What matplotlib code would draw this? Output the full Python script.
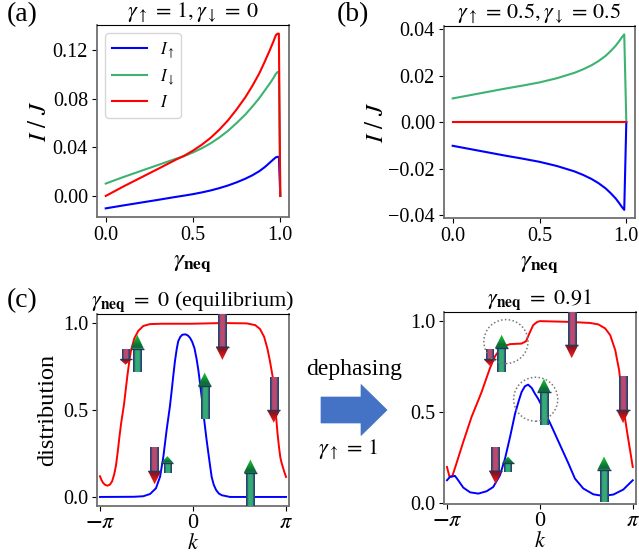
"""Dephasing current panels (a), (b) and momentum distributions (c)."""

import matplotlib

matplotlib.use("Agg")

import matplotlib.pyplot as plt
import numpy as np
from matplotlib.patches import Ellipse, FancyArrow, Polygon, Rectangle

plt.rcParams["font.family"] = ["Liberation Serif", "DejaVu Serif"]
plt.rcParams["mathtext.fontset"] = "stix"

W, H = 639, 554

BLUE = "#0000ff"
GREEN = "#3cb371"
RED = "#ff0000"

# (a) gamma_up = 1, gamma_down = 0
A_GAMMA = [0.0, 0.1, 0.2, 0.3, 0.4, 0.45, 0.5, 0.55, 0.6, 0.65, 0.7, 0.75, 0.8, 0.84, 0.88, 0.91, 0.94, 0.96, 0.975, 0.985, 0.992, 1.0]
A_UP = [-0.0102, -0.0078, -0.0055, -0.0032, -0.0008, 0.0003, 0.0015, 0.0029, 0.0045, 0.0064, 0.0086, 0.0112, 0.0142, 0.0170, 0.0204, 0.0236, 0.0274, 0.0300, 0.0318, 0.0322, 0.0322, 0.0]
A_DOWN = [0.0102, 0.0155, 0.0205, 0.0255, 0.0305, 0.0328, 0.0358, 0.0392, 0.0432, 0.0480, 0.0535, 0.0600, 0.0670, 0.0735, 0.0805, 0.0865, 0.0925, 0.0968, 0.1005, 0.1020, 0.1020, 0.0]
A_TOTAL = [0.0, 0.0077, 0.0150, 0.0223, 0.0297, 0.0331, 0.0373, 0.0421, 0.0477, 0.0544, 0.0621, 0.0712, 0.0812, 0.0905, 0.1009, 0.1101, 0.1199, 0.1268, 0.1323, 0.1335, 0.1335, 0.0]

# (b) gamma_up = 0.5, gamma_down = 0.5
B_GAMMA = [0.0, 0.1, 0.2, 0.3, 0.4, 0.5, 0.6, 0.7, 0.75, 0.8, 0.84, 0.88, 0.91, 0.94, 0.96, 0.975, 0.988, 1.0]
B_UP = [-0.0102, -0.0116, -0.0130, -0.0144, -0.0157, -0.0171, -0.0189, -0.0212, -0.0227, -0.0245, -0.0263, -0.0285, -0.0306, -0.0330, -0.0350, -0.0366, -0.0378, 0.0]
B_DOWN = [0.0102, 0.0116, 0.0130, 0.0144, 0.0157, 0.0171, 0.0189, 0.0212, 0.0227, 0.0245, 0.0263, 0.0285, 0.0306, 0.0330, 0.0350, 0.0366, 0.0378, 0.0]
B_TOTAL = [0.0] * 18

# (c) equilibrium distributions
C_K_RED = [-3.14, -3.09, -3.03, -2.96, -2.88, -2.80, -2.73, -2.66, -2.60, -2.54, -2.48, -2.42, -2.33, -2.22, -2.15, -2.09, -1.98, -1.85, -1.68, -1.45, -1.06, -0.03, 1.0, 1.815, 2.10, 2.26, 2.40, 2.51, 2.60, 2.69, 2.75, 2.80, 2.85, 2.90, 2.95, 3.00, 3.07, 3.14]
C_RED = [0.119, 0.098, 0.080, 0.069, 0.065, 0.072, 0.090, 0.130, 0.180, 0.260, 0.350, 0.430, 0.530, 0.690, 0.780, 0.845, 0.912, 0.954, 0.983, 0.994, 0.996, 0.996, 1.0, 0.998, 0.988, 0.966, 0.921, 0.854, 0.778, 0.690, 0.570, 0.470, 0.370, 0.290, 0.225, 0.190, 0.150, 0.115]
C_K_BLUE = [-3.14, -2.0, -1.68, -1.45, -1.25, -1.11, -1.0, -0.89, -0.78, -0.72, -0.67, -0.61, -0.55, -0.50, -0.43, -0.36, -0.25, -0.17, -0.10, -0.03, 0.05, 0.12, 0.18, 0.24, 0.31, 0.38, 0.45, 0.52, 0.58, 0.63, 0.70, 0.78, 0.87, 0.97, 1.25, 3.14]
C_BLUE = [0.0, 0.001, 0.004, 0.017, 0.050, 0.117, 0.232, 0.385, 0.520, 0.610, 0.690, 0.780, 0.850, 0.895, 0.920, 0.933, 0.935, 0.928, 0.915, 0.893, 0.855, 0.795, 0.730, 0.650, 0.550, 0.440, 0.340, 0.250, 0.175, 0.115, 0.070, 0.040, 0.020, 0.010, 0.0, 0.0]

# (c) distributions at gamma_neq = 0.91
D_K_RED = [-3.14, -3.06, -2.96, -2.84, -2.59, -2.31, -2.08, -1.97, -1.69, -1.52, -1.29, -1.01, -0.62, -0.47, -0.36, -0.23, -0.09, 0.0, 0.95, 1.69, 1.97, 2.20, 2.37, 2.54, 2.67, 2.78, 2.93, 3.04, 3.13]
D_RED = [0.199, 0.148, 0.148, 0.208, 0.336, 0.473, 0.565, 0.610, 0.740, 0.805, 0.857, 0.872, 0.875, 0.888, 0.930, 0.976, 0.994, 0.998, 0.994, 0.988, 0.980, 0.958, 0.921, 0.839, 0.729, 0.565, 0.400, 0.290, 0.199]
D_K_BLUE = [-3.14, -3.04, -2.87, -2.76, -2.59, -2.36, -2.08, -1.80, -1.58, -1.35, -1.18, -1.01, -0.84, -0.71, -0.62, -0.51, -0.40, -0.28, -0.17, -0.06, 0.11, 0.40, 0.68, 0.96, 1.18, 1.46, 1.80, 2.14, 2.48, 2.81, 3.13]
D_BLUE = [0.126, 0.144, 0.150, 0.126, 0.086, 0.060, 0.053, 0.066, 0.089, 0.154, 0.245, 0.364, 0.492, 0.565, 0.610, 0.641, 0.650, 0.632, 0.600, 0.572, 0.518, 0.418, 0.318, 0.218, 0.135, 0.081, 0.049, 0.040, 0.048, 0.075, 0.126]

# spin arrows: k, tail, neck (where the head starts), tip
C_ARROW_K = [-2.274, -1.880, 0.991, 0.394, 2.725, -1.295, -0.867, 1.937]
C_ARROW_TAIL = [0.850, 0.717, 1.052, 0.448, 0.692, 0.288, 0.140, -0.054]
C_ARROW_NECK = [0.792, 0.852, 0.865, 0.638, 0.500, 0.150, 0.196, 0.138]
C_ARROW_TIP = [0.760, 0.933, 0.788, 0.715, 0.427, 0.073, 0.235, 0.215]

D_ARROW_K = [-1.70, -1.295, 1.07, 0.135, 2.804, -1.498, -1.08, 2.162]
D_ARROW_TAIL = [0.845, 0.718, 1.050, 0.428, 0.695, 0.311, 0.170, 0.005]
D_ARROW_NECK = [0.790, 0.850, 0.868, 0.607, 0.512, 0.179, 0.219, 0.183]
D_ARROW_TIP = [0.753, 0.923, 0.795, 0.682, 0.439, 0.106, 0.256, 0.256]

GAMMA_LABEL = r"$\gamma_{\mathbf{neq}}$"
K_TICKS = [-np.pi, 0, np.pi]
K_TICK_LABELS = [r"$\mathbf{-}\pi$", "0", r"$\pi$"]


def axes_px(fig, left, right, top, bottom):
    return fig.add_axes([left / W, 1 - bottom / H, (right - left) / W, (bottom - top) / H])


def style_axes(ax):
    ax.tick_params(labelsize=14.5, length=3.5, width=0.8, pad=3)
    for side in ("right", "bottom", "left"):
        ax.spines[side].set_color("#707070")
        ax.spines[side].set_linewidth(1.3)


def gradient(ax, colors, extent, clip, zorder, horizontal=False):
    rgb = np.array([matplotlib.colors.to_rgb(c) for c in colors])
    img = rgb[:, None, :] if not horizontal else rgb[None, :, :]
    im = ax.imshow(img, extent=extent, aspect="auto", interpolation="bilinear", zorder=zorder)
    im.set_clip_path(clip)


def spin_arrow(ax, k, tail, neck, tip):
    up = tip > tail
    shaft_w = 0.14
    head_w = 0.225
    if abs(tip - tail) < 0.12:
        shaft_w = 0.12
        head_w = 0.205
    if up:
        middle, head_colors = "#35ab76", ["#18b030", "#0c7038"]
    else:
        middle, head_colors = "#bb4a70", ["#8a1420", "#e01818"]
    lo, hi = min(tail, neck), max(tail, neck)
    shaft = Rectangle((k - shaft_w, lo), 2 * shaft_w, hi - lo, transform=ax.transData, fc="none", ec="none")
    ax.add_patch(shaft)
    gradient(ax, ["#27436f", middle, middle, middle, "#27436f"],
             (k - shaft_w, k + shaft_w, lo, hi), shaft, 4, horizontal=True)
    head = Polygon([(k - head_w, neck), (k + head_w, neck), (k, tip)], transform=ax.transData, fc="none", ec="none")
    ax.add_patch(head)
    gradient(ax, head_colors, (k - head_w, k + head_w, min(neck, tip), max(neck, tip)), head, 5)
    ax.plot([k - head_w, k + head_w], [neck, neck], color="#1f3a5c", lw=1.0, zorder=6, solid_capstyle="butt")


def distribution_panel(ax, k_red, red, k_blue, blue, arrows, ylim):
    ax.plot(k_red, red, color=RED, lw=1.4, zorder=2)
    ax.plot(k_blue, blue, color=BLUE, lw=1.4, zorder=3)
    for k, tail, neck, tip in zip(*arrows):
        spin_arrow(ax, k, tail, neck, tip)
    ax.set_xlim(-3.24, 3.24)
    ax.set_ylim(*ylim)
    ax.set_xticks(K_TICKS, K_TICK_LABELS)
    ax.set_yticks([0.0, 0.5, 1.0], ["0.0", "0.5", "1.0"])
    ax.set_xlabel(r"$k$", fontsize=16, labelpad=1)
    style_axes(ax)
    ax.tick_params(axis="x", labelsize=16, pad=2)


fig = plt.figure(figsize=(W / 100, H / 100), dpi=100)

ax_a = axes_px(fig, 97, 289, 25, 217)
ax_a.plot(A_GAMMA, A_UP, color=BLUE, lw=1.5, label=r"$I_{\uparrow}$")
ax_a.plot(A_GAMMA, A_DOWN, color=GREEN, lw=1.5, label=r"$I_{\downarrow}$")
ax_a.plot(A_GAMMA, A_TOTAL, color=RED, lw=1.5, label=r"$I$")
ax_a.set_xlim(-0.05, 1.05)
ax_a.set_ylim(-0.0173, 0.1406)
ax_a.set_xticks([0.0, 0.5, 1.0])
ax_a.set_yticks([0.0, 0.04, 0.08, 0.12], ["0.00", "0.04", "0.08", "0.12"])
ax_a.set_xlabel(GAMMA_LABEL, fontsize=18, labelpad=5)
ax_a.set_ylabel(r"$I\ /\ J$", fontsize=18, labelpad=1)
ax_a.set_title(r"$\gamma_{\uparrow}\,=\,1,\gamma_{\downarrow}\,=\,0$", fontsize=16, pad=3)
ax_a.legend(loc="upper left", fontsize=12, handlelength=2.1, handletextpad=0.75,
            borderaxespad=0.5, labelspacing=0.45)
style_axes(ax_a)

ax_b = axes_px(fig, 444, 635, 26, 218)
ax_b.plot(B_GAMMA, B_DOWN, color=GREEN, lw=1.5)
ax_b.plot(B_GAMMA, B_UP, color=BLUE, lw=1.5)
ax_b.plot(B_GAMMA, B_TOTAL, color=RED, lw=1.5)
ax_b.set_xlim(-0.05, 1.05)
ax_b.set_ylim(-0.0413, 0.0414)
ax_b.set_xticks([0.0, 0.5, 1.0])
ax_b.set_yticks([-0.04, -0.02, 0.0, 0.02, 0.04])
ax_b.set_xlabel(GAMMA_LABEL, fontsize=18, labelpad=5)
ax_b.set_ylabel(r"$I\ /\ J$", fontsize=18, labelpad=0)
ax_b.set_title(r"$\gamma_{\uparrow}\,=\,0.5,\gamma_{\downarrow}\,=\,0.5$", fontsize=16, pad=4)
style_axes(ax_b)

ax_c = axes_px(fig, 97, 289, 314, 506)
distribution_panel(ax_c, C_K_RED, C_RED, C_K_BLUE, C_BLUE,
                   (C_ARROW_K, C_ARROW_TAIL, C_ARROW_NECK, C_ARROW_TIP), (-0.052, 1.052))
ax_c.set_ylabel("distribution", fontsize=17.5, labelpad=3)
ax_c.set_title(r"$\gamma_{\mathbf{neq}}\ =\ 0$ (equilibrium)", fontsize=16, pad=3)

ax_d = axes_px(fig, 444, 636, 312, 504)
distribution_panel(ax_d, D_K_RED, D_RED, D_K_BLUE, D_BLUE,
                   (D_ARROW_K, D_ARROW_TAIL, D_ARROW_NECK, D_ARROW_TIP), (-0.004, 1.048))
ax_d.set_title(r"$\gamma_{\mathbf{neq}}\ =\ 0.91$", fontsize=16, pad=3)
for centre in [(-1.15, 0.886), (-0.145, 0.570)]:
    ax_d.add_patch(Ellipse(centre, 1.49, 0.241, fc="none", ec="#777777", ls=(0, (1, 1.5)), lw=1.1, zorder=7))

# overlay in pixel coordinates for the panel letters and the dephasing arrow
overlay = fig.add_axes([0, 0, 1, 1], zorder=-1)
overlay.set_xlim(0, W)
overlay.set_ylim(H, 0)
overlay.axis("off")
overlay.text(7, 15, "(a)", fontsize=20, va="center")
overlay.text(337, 15, "(b)", fontsize=20, va="center")
overlay.text(7, 301, "(c)", fontsize=20, va="center")
overlay.text(354, 370, "dephasing", fontsize=17, ha="center", va="center")
overlay.text(348, 450, r"$\gamma_{\uparrow}\,=\,1$", fontsize=16, ha="center", va="center")
overlay.add_patch(FancyArrow(321, 410, 66, 0, width=26, head_width=51, head_length=26,
                             length_includes_head=True, fc="#4472c4", ec="#4472c4", lw=0.5))

fig.savefig("out.png", dpi=100)
